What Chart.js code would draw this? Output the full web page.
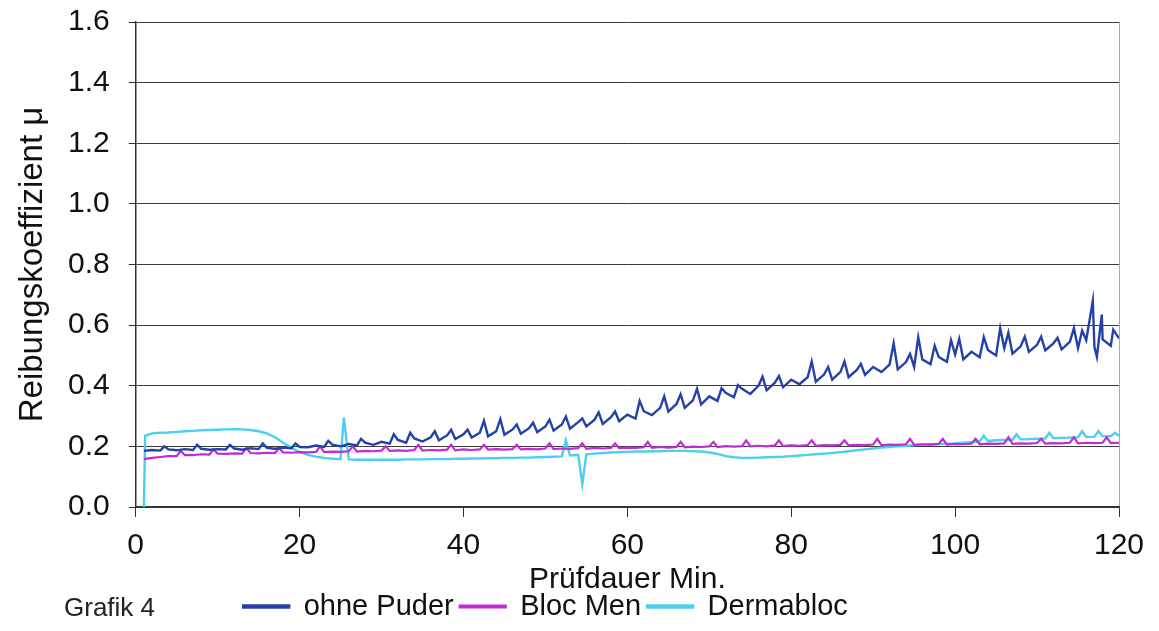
<!DOCTYPE html>
<html>
<head>
<meta charset="utf-8">
<script src="https://cdn.jsdelivr.net/npm/chart.js@4/dist/chart.umd.min.js"></script>
<style>
  html, body { margin: 0; padding: 0; background: #fff; }
</style>
</head>
<body>
<canvas id="chart" width="1159" height="631"></canvas>
<script>
// Prüfdauer in Minuten (gemeinsames Raster)
const minutes = [
    1, 2, 3, 4, 5, 6, 7, 8, 9, 10, 11, 12, 13, 14, 15, 16, 17, 18, 19, 20,
    21, 22, 23, 24, 25, 26, 27, 28, 29, 30, 31, 32, 33, 34, 35, 36, 37, 38, 39, 40,
    41, 42, 43, 44, 45, 46, 47, 48, 49, 50, 51, 52, 53, 54, 55, 56, 57, 58, 59, 60,
    61, 62, 63, 64, 65, 66, 67, 68, 69, 70, 71, 72, 73, 74, 75, 76, 77, 78, 79, 80,
    81, 82, 83, 84, 85, 86, 87, 88, 89, 90, 91, 92, 93, 94, 95, 96, 97, 98, 99, 100,
    101, 102, 103, 104, 105, 106, 107, 108, 109, 110, 111, 112, 113, 114, 115, 116, 117, 118, 119, 120
];

// ohne Puder
const ohnePuder = [
    0.185, 0.188, 0.186, 0.190, 0.187, 0.191, 0.188, 0.192, 0.189, 0.191,
    0.190, 0.193, 0.189, 0.194, 0.191, 0.195, 0.192, 0.196, 0.194, 0.198,
    0.197, 0.203, 0.198, 0.206, 0.200, 0.208, 0.203, 0.212, 0.205, 0.215,
    0.209, 0.221, 0.212, 0.226, 0.216, 0.230, 0.220, 0.236, 0.224, 0.240,
    0.229, 0.245, 0.233, 0.250, 0.238, 0.256, 0.242, 0.260, 0.247, 0.266,
    0.252, 0.272, 0.258, 0.280, 0.266, 0.288, 0.274, 0.296, 0.283, 0.305,
    0.292, 0.316, 0.303, 0.327, 0.315, 0.340, 0.327, 0.352, 0.338, 0.365,
    0.350, 0.377, 0.362, 0.390, 0.373, 0.400, 0.385, 0.410, 0.395, 0.420,
    0.405, 0.428, 0.413, 0.437, 0.420, 0.445, 0.428, 0.452, 0.436, 0.462,
    0.445, 0.470, 0.454, 0.478, 0.462, 0.487, 0.471, 0.495, 0.479, 0.503,
    0.487, 0.512, 0.494, 0.518, 0.500, 0.524, 0.506, 0.530, 0.512, 0.535,
    0.517, 0.540, 0.520, 0.545, 0.524, 0.550, 0.528, 0.553, 0.532, 0.556
];
const ohnePuderSpikeT = [
    3.5, 7.5, 11.5, 15.5, 19.5, 23.5, 27.5, 31.5, 33.5, 36.5, 38.5, 40.5, 42.5, 44.5, 46.5,
    48.5, 50.5, 52.5, 54.5, 56.5, 58.5, 61.5, 64.5, 66.5, 68.5, 71.5, 73.5, 76.5, 78.5,
    82.5, 84.5, 86.5, 88.5, 92.5, 94.5, 95.5, 97.5, 99.5, 100.5, 103.5, 105.5, 106.5,
    108.5, 110.5, 112.5, 114.5, 115.5, 116.8, 117.3, 117.9, 119.3
];
const ohnePuderSpikeV = [
    0.200, 0.205, 0.205, 0.210, 0.210, 0.218, 0.225, 0.240, 0.245, 0.250, 0.255, 0.255, 0.285, 0.290, 0.272,
    0.278, 0.288, 0.298, 0.292, 0.312, 0.315, 0.350, 0.365, 0.372, 0.390, 0.392, 0.402, 0.430, 0.432,
    0.480, 0.462, 0.480, 0.472, 0.540, 0.505, 0.560, 0.532, 0.550, 0.555, 0.560, 0.590, 0.575,
    0.562, 0.562, 0.558, 0.590, 0.582, 0.680, 0.495, 0.635, 0.585
];

// Bloc Men
const blocMen = [
    0.158, 0.162, 0.165, 0.168, 0.168, 0.171, 0.171, 0.174, 0.173, 0.176,
    0.175, 0.177, 0.176, 0.178, 0.177, 0.179, 0.178, 0.180, 0.179, 0.181,
    0.180, 0.182, 0.181, 0.183, 0.182, 0.184, 0.183, 0.185, 0.184, 0.186,
    0.185, 0.187, 0.185, 0.188, 0.186, 0.188, 0.187, 0.189, 0.187, 0.190,
    0.188, 0.190, 0.189, 0.191, 0.189, 0.191, 0.190, 0.192, 0.190, 0.193,
    0.191, 0.193, 0.192, 0.194, 0.192, 0.195, 0.193, 0.195, 0.194, 0.196,
    0.195, 0.197, 0.195, 0.198, 0.196, 0.198, 0.197, 0.199, 0.198, 0.200,
    0.198, 0.201, 0.199, 0.201, 0.200, 0.202, 0.200, 0.203, 0.201, 0.203,
    0.202, 0.204, 0.202, 0.204, 0.203, 0.205, 0.203, 0.205, 0.204, 0.206,
    0.204, 0.206, 0.205, 0.207, 0.205, 0.207, 0.206, 0.208, 0.206, 0.208,
    0.207, 0.209, 0.207, 0.209, 0.208, 0.210, 0.208, 0.210, 0.209, 0.211,
    0.209, 0.211, 0.210, 0.212, 0.210, 0.212, 0.211, 0.212, 0.211, 0.212
];
const blocMenSpikeT = [
    5.5, 9.5, 13.5, 17.5, 22.5, 26.5, 30.5, 34.5, 38.5, 42.5, 46.5, 50.5, 54.5, 58.5,
    62.5, 66.5, 70.5, 74.5, 78.5, 82.5, 86.5, 90.5, 94.5, 98.5, 102.5, 106.5, 110.5, 114.5, 118.5
];
const blocMenSpikeV = [
    0.185, 0.190, 0.195, 0.195, 0.200, 0.200, 0.200, 0.205, 0.205, 0.205, 0.205, 0.210, 0.210, 0.210,
    0.215, 0.215, 0.215, 0.220, 0.220, 0.220, 0.220, 0.225, 0.225, 0.225, 0.225, 0.230, 0.225, 0.230, 0.230
];

// Dermabloc
const dermabloc = [
    0.000, 0.243, 0.245, 0.246, 0.248, 0.250, 0.251, 0.253, 0.254, 0.255,
    0.256, 0.257, 0.256, 0.254, 0.250, 0.243, 0.230, 0.212, 0.195, 0.182,
    0.172, 0.166, 0.162, 0.159, 0.158, 0.157, 0.156, 0.156, 0.156, 0.156,
    0.156, 0.156, 0.157, 0.157, 0.157, 0.158, 0.158, 0.158, 0.159, 0.159,
    0.160, 0.160, 0.161, 0.161, 0.162, 0.162, 0.163, 0.163, 0.164, 0.165,
    0.166, 0.167, 0.170, 0.172, 0.174, 0.176, 0.178, 0.180, 0.181, 0.182,
    0.183, 0.183, 0.184, 0.184, 0.185, 0.185, 0.185, 0.184, 0.183, 0.180,
    0.175, 0.168, 0.164, 0.162, 0.162, 0.163, 0.164, 0.165, 0.166, 0.168,
    0.170, 0.172, 0.174, 0.176, 0.178, 0.181, 0.184, 0.187, 0.190, 0.193,
    0.196, 0.198, 0.200, 0.202, 0.204, 0.206, 0.207, 0.208, 0.209, 0.210,
    0.212, 0.214, 0.216, 0.218, 0.220, 0.221, 0.222, 0.223, 0.224, 0.225,
    0.226, 0.227, 0.228, 0.229, 0.230, 0.231, 0.232, 0.233, 0.234, 0.235
];
const dermablocSpikeT = [1.15, 25.4, 52.5, 54.5, 103.5, 107.5, 111.5, 115.5, 117.5, 119.5];
const dermablocSpikeV = [0.235, 0.295, 0.220, 0.076, 0.235, 0.240, 0.245, 0.250, 0.250, 0.245];

const xTicks = [0, 20, 40, 60, 80, 100, 120];
const yTicks = [0.0, 0.2, 0.4, 0.6, 0.8, 1.0, 1.2, 1.4, 1.6];

function toPoints(values, spikeT, spikeV) {
    const pts = minutes.map((t, i) => ({ x: t, y: values[i] }));
    spikeT.forEach((t, i) => pts.push({ x: t, y: spikeV[i] }));
    return pts.sort((a, b) => a.x - b.x);
}

Chart.defaults.font.family = '"Liberation Sans", Arial, Helvetica, sans-serif';
Chart.defaults.color = '#111';

const FONT_TICK = 30;

const grafikLabel = {
    id: 'grafikLabel',
    afterLayout(chart) {
        // Legende etwas nach links, Platz fuer "Grafik 4"
        chart.legend.left -= 22;
        chart.legend.right -= 22;
    },
    afterDraw(chart) {
        const { ctx } = chart;
        const box = chart.legend.legendHitBoxes[0];
        ctx.save();
        ctx.font = '26px "Liberation Sans", Arial, sans-serif';
        ctx.fillStyle = '#222';
        ctx.textBaseline = 'middle';
        ctx.fillText('Grafik 4', 64, box.top + box.height / 2 + 2);
        ctx.restore();
    }
};

new Chart(document.getElementById('chart'), {
    type: 'line',
    data: {
        datasets: [
            {
                label: 'ohne Puder',
                data: toPoints(ohnePuder, ohnePuderSpikeT, ohnePuderSpikeV),
                borderColor: '#2441a8',
                backgroundColor: '#2441a8',
                borderWidth: 2.4
            },
            {
                label: 'Bloc Men',
                data: toPoints(blocMen, blocMenSpikeT, blocMenSpikeV),
                borderColor: '#c02bd3',
                backgroundColor: '#c02bd3',
                borderWidth: 2.2
            },
            {
                label: 'Dermabloc',
                data: toPoints(dermabloc, dermablocSpikeT, dermablocSpikeV),
                borderColor: '#4ccfee',
                backgroundColor: '#4ccfee',
                borderWidth: 2.4
            }
        ]
    },
    options: {
        responsive: false,
        animation: false,
        devicePixelRatio: 1,
        layout: {
            padding: { left: 16, right: 40, top: 0, bottom: 0 }
        },
        elements: {
            point: { radius: 0 },
            line: { tension: 0 }
        },
        plugins: {
            tooltip: { enabled: false },
            legend: {
                position: 'bottom',
                labels: {
                    boxWidth: 46,
                    boxHeight: 2,
                    padding: 6,
                    font: { size: 29, lineHeight: 1 },
                    color: '#111'
                }
            }
        },
        scales: {
            x: {
                type: 'linear',
                min: 0,
                max: 120,
                afterBuildTicks: (axis) => {
                    axis.ticks = xTicks.map((v) => ({ value: v }));
                },
                ticks: {
                    font: { size: FONT_TICK, lineHeight: 1 },
                    color: '#111',
                    padding: 14,
                    maxRotation: 0
                },
                grid: {
                    drawOnChartArea: true,
                    color: (ctx) => (ctx.tick && ctx.tick.value === 120 ? '#a8a8a8' : 'rgba(0,0,0,0)'),
                    tickColor: '#333',
                    tickLength: 10
                },
                border: { color: '#333', width: 1.5 },
                title: {
                    display: true,
                    text: 'Prüfdauer Min.',
                    font: { size: 30, lineHeight: 1 },
                    color: '#111',
                    padding: { top: -10, bottom: -9 }
                }
            },
            y: {
                min: 0,
                max: 1.6,
                afterBuildTicks: (axis) => {
                    axis.ticks = yTicks.map((v) => ({ value: v }));
                },
                afterFit: (axis) => {
                    // oberer Rand wie im Original (1.6-Linie knapp unter dem Rand)
                    axis.paddingTop = 22;
                },
                ticks: {
                    font: { size: FONT_TICK, lineHeight: 1 },
                    color: '#111',
                    padding: 19,
                    callback: (v) => v.toFixed(1)
                },
                grid: {
                    color: '#3c3c3c',
                    tickColor: '#333',
                    tickLength: 7
                },
                border: { color: '#333', width: 1.5 },
                title: {
                    display: true,
                    text: 'Reibungskoeffizient μ',
                    font: { size: 33, lineHeight: 1 },
                    color: '#111',
                    padding: { top: 0, bottom: 0 }
                }
            }
        }
    },
    plugins: [grafikLabel]
});
</script>
</body>
</html>
